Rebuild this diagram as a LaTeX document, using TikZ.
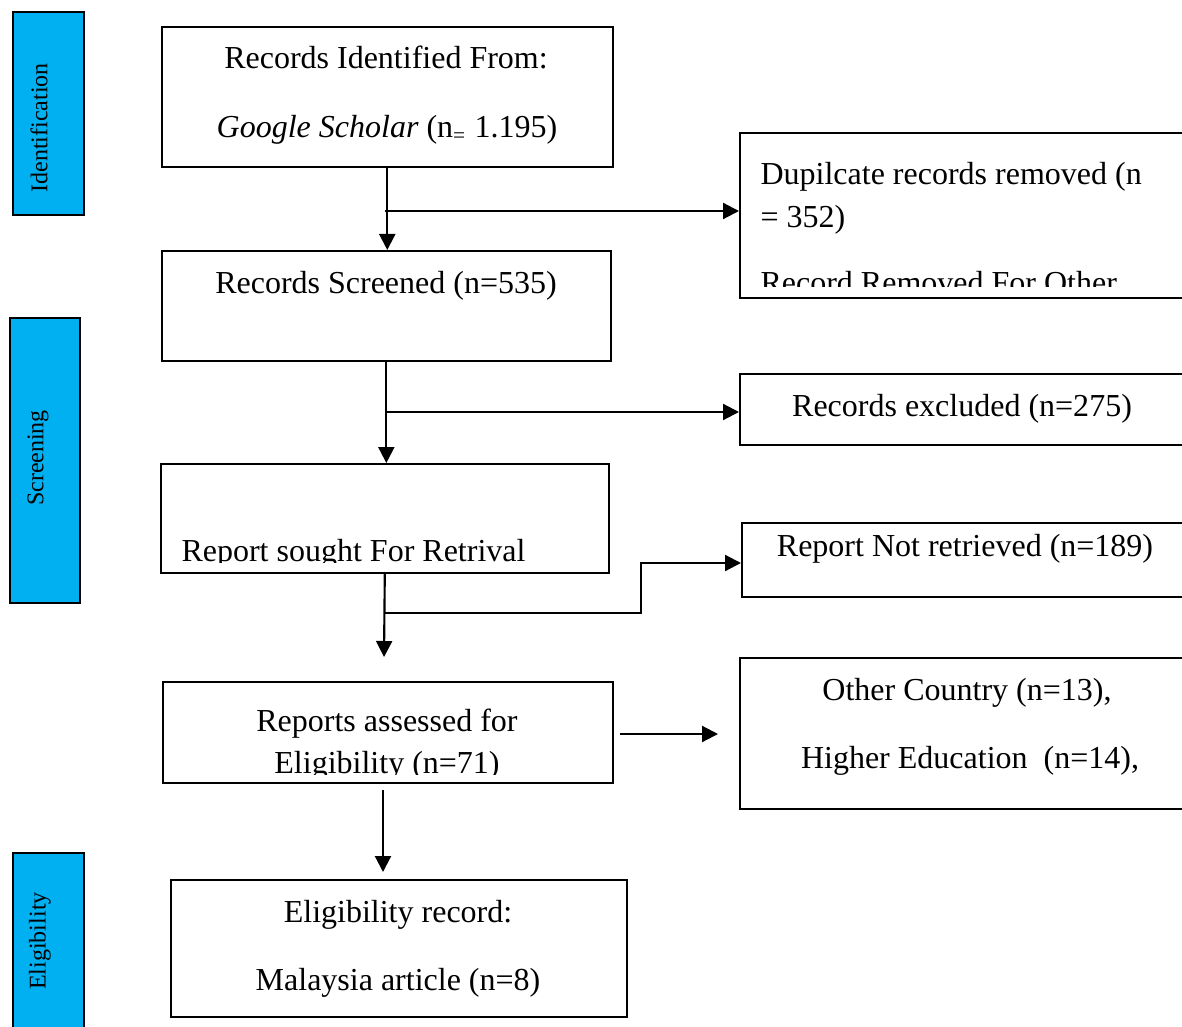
\documentclass[tikz,border=0pt]{standalone}
\usepackage{fontspec}
\setmainfont{Liberation Serif}
\usetikzlibrary{arrows.meta}
\definecolor{stagefill}{HTML}{00B0F0}

\begin{document}
\begin{tikzpicture}[x=0.375pt, y=-0.375pt,
    box/.style={draw, line width=0.6pt, anchor=north west, inner sep=0pt},
    stage/.style={box, fill=stagefill},
    txt/.style={anchor=base, inner sep=0pt, font=\fontsize{12}{14}\selectfont},
    ltxt/.style={anchor=base west, inner sep=0pt, font=\fontsize{12}{14}\selectfont},
    stagetxt/.style={rotate=90, inner sep=0pt, font=\fontsize{9}{11}\selectfont},
    arr/.style={line width=0.8pt, -{Triangle[length=6pt, width=6pt]}}]
  \clip (0,0) rectangle (1182,1026);

  % stages on the left
  \node[stage, minimum width=26.6pt, minimum height=76.1pt] (stageid) at (12,11) {};
  \node[stage, minimum width=26.25pt, minimum height=106.9pt] (stagescr) at (9,317) {};
  \node[stage, minimum width=26.6pt, minimum height=67.5pt] (stageelig) at (12,852) {};
  \node[stagetxt] (stageid-t) at (39,128) {Identification};
  \node[stagetxt] (stagescr-t) at (38,458) {Screening};
  \node[stagetxt] (stageelig-t) at (40,941) {Eligibility};

  % main column
  \node[box, minimum width=169.1pt, minimum height=52.5pt] (ident) at (161,26) {};
  \node[box, minimum width=168.4pt, minimum height=41.25pt] (screen) at (161,250) {};
  \node[box, minimum width=168pt, minimum height=40.9pt] (sought) at (160,463) {};
  \node[box, minimum width=168.75pt, minimum height=37.9pt] (assess) at (162,681) {};
  \node[box, minimum width=171pt, minimum height=51.4pt] (record) at (170,879) {};

  % right column
  \node[box, minimum width=172.5pt, minimum height=61.9pt] (dup) at (739,132) {};
  \node[box, minimum width=167.25pt, minimum height=26.6pt] (excl) at (739,373) {};
  \node[box, minimum width=168pt, minimum height=27.75pt] (notret) at (741,522) {};
  \node[box, minimum width=173.25pt, minimum height=56.6pt] (other) at (739,657) {};

  % texts
  \node[txt] (ident-a) at (386,69) {Records Identified From:};
  \node[txt] (ident-b) at (387,138) {\textit{Google Scholar} (n\textsubscript{=} 1.195)};
  \begin{scope}
    \clip (739,132) rectangle (1182,287);
    \node[ltxt] (dup-a) at (760,185) {Dupilcate records removed (n};
    \node[ltxt] (dup-b) at (760,228) {= 352)};
    \node[ltxt] (dup-c) at (760,294) {Record Removed For Other};
  \end{scope}
  \node[txt] (screen-a) at (386,294) {Records Screened (n=535)};
  \node[txt] (excl-a) at (962,416) {Records excluded (n=275)};
  \begin{scope}
    \clip (160,463) rectangle (608,562);
    \node[ltxt] (sought-a) at (181,561) {Report sought For Retrival};
  \end{scope}
  \node[txt] (notret-a) at (965,556) {Report Not retrieved (n=189)};
  \node[txt] (assess-a) at (387,731) {Reports assessed for};
  \begin{scope}
    \clip (162,681) rectangle (612,774);
    \node[txt] (assess-b) at (387,773) {Eligibility (n=71)};
  \end{scope}
  \node[txt] (other-a) at (967,700) {Other Country (n=13),};
  \node[txt] (other-b) at (970,768) {Higher Education\ \ (n=14),};
  \node[txt] (record-a) at (398,922) {Eligibility record:};
  \node[txt] (record-b) at (398,990) {Malaysia article (n=8)};

  % arrows
  \coordinate (b1) at (385,211);
  \coordinate (b2) at (385,412);
  \coordinate (b3) at (384,613);
  \coordinate (k3) at (641,563);
  \coordinate (e3) at (384,657);
  \coordinate (s4) at (620,734);
  \coordinate (e4) at (718,734);
  \coordinate (s5) at (383,790);
  \coordinate (e5) at (383,872);
  \draw[arr] (ident.south) -- (ident.south |- screen.north);
  \draw[arr] (b1) -- (b1 -| dup.west);
  \draw[arr] (screen.south) -- (screen.south |- sought.north);
  \draw[arr] (b2) -- (b2 -| excl.west);
  \draw[arr] (sought.south) -- (e3);
  \draw[arr] (b3) -| (k3) -- (k3 -| notret.west);
  \draw[arr] (s4) -- (e4);
  \draw[arr] (s5) -- (e5);
\end{tikzpicture}
\end{document}
